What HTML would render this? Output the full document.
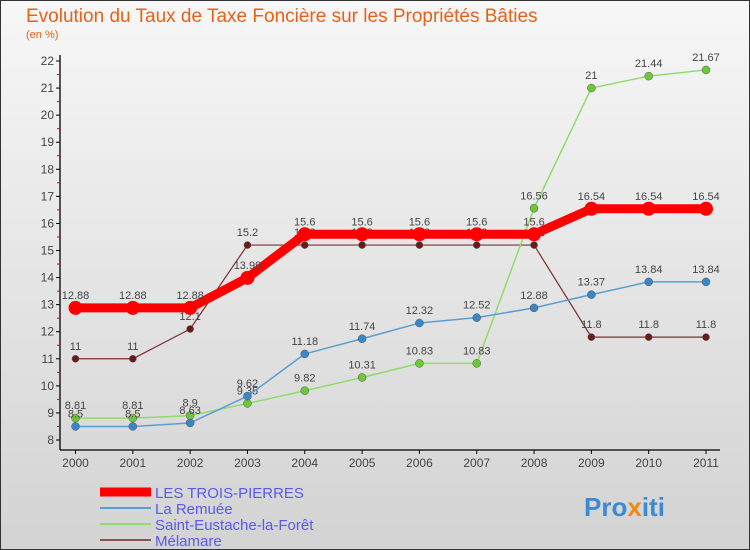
<!DOCTYPE html>
<html><head><meta charset="utf-8"><style>
body{margin:0;}
svg{display:block;font-family:"Liberation Sans",sans-serif;}
</style></head><body>
<svg id="c" width="750" height="550">
<defs><linearGradient id="bg" x1="0" y1="0" x2="0" y2="1"><stop offset="0" stop-color="#f7f7f7"/><stop offset="1" stop-color="#d3d3d3"/></linearGradient></defs>
<rect x="0.5" y="0.5" width="749" height="549" fill="url(#bg)" stroke="#333"/>
<text x="26" y="22" font-size="19" fill="#e8611a">Evolution du Taux de Taxe Foncière sur les Propriétés Bâties</text>
<text x="26" y="38" font-size="11" fill="#e8611a">(en %)</text>
<g id="axes"></g><g id="series"></g><g id="legend"></g>
<text x="584" y="516" font-size="26" font-weight="bold" fill="#3a8ad8">Pro<tspan fill="#f08a10">x</tspan>iti</text>
</svg>
<script>
const years=[2000,2001,2002,2003,2004,2005,2006,2007,2008,2009,2010,2011];
const yTicks=[8,9,10,11,12,13,14,15,16,17,18,19,20,21,22];
const seriesNames=["LES TROIS-PIERRES","La Remuée","Saint-Eustache-la-Forêt","Mélamare"];
const troisPierres=[12.88,12.88,12.88,13.99,15.6,15.6,15.6,15.6,15.6,16.54,16.54,16.54];
const remuee=[8.5,8.5,8.63,9.62,11.18,11.74,12.32,12.52,12.88,13.37,13.84,13.84];
const saintEustache=[8.81,8.81,8.9,9.35,9.82,10.31,10.83,10.83,16.56,21,21.44,21.67];
const melamare=[11,11,12.1,15.2,15.2,15.2,15.2,15.2,15.2,11.8,11.8,11.8];
const NS="http://www.w3.org/2000/svg";
function mk(t,a,p){const e=document.createElementNS(NS,t);for(const k in a)e.setAttribute(k,a[k]);p.appendChild(e);return e;}
const xS=i=>75.5+i*(706-75.5)/11;
const yS=v=>440-(v-8)*(379/14);
const ax=document.getElementById('axes');
let l=mk('line',{x1:60,y1:55,x2:60,y2:450,stroke:'#000','stroke-width':1.3},ax);

l=mk('line',{x1:60,y1:450,x2:720,y2:450,stroke:'#000','stroke-width':1.3},ax);

yTicks.forEach((v,i)=>{
 const y=yS(v);
 mk('line',{x1:56,y1:y,x2:60,y2:y,stroke:'#000'},ax);
 if(i<yTicks.length-1){mk('line',{x1:57,y1:yS(v+0.5),x2:60,y2:yS(v+0.5),stroke:'#e00'},ax);}
 const t=mk('text',{x:54,y:y+4,'font-size':12,'text-anchor':'end',fill:'#444'},ax);t.textContent=v;
 
});
years.forEach((yr,i)=>{
 const x=xS(i);
 mk('line',{x1:x,y1:450,x2:x,y2:454,stroke:'#000'},ax);
 const t=mk('text',{x:x,y:467,'font-size':12,'text-anchor':'middle',fill:'#444'},ax);t.textContent=yr;
 
});
const sg=document.getElementById('series');
const defs=[
 {d:melamare,c:'#7a3030',pc:'#6a1a1a',w:1.2,r:3.5,name:'melamare'},
 {d:saintEustache,c:'#8fdc6a',pc:'#6cc83a',w:1.5,r:4,name:'saint-eustache'},
 {d:remuee,c:'#5a9fd0',pc:'#3a86c8',w:1.5,r:4,name:'la-remuee'},
 {d:troisPierres,c:'#f00',pc:'#f00',w:9,r:7,name:'les-trois-pierres'}];
defs.forEach(s=>{
 const g=mk('g',{},sg);
 
 const p=mk('polyline',{points:s.d.map((v,i)=>xS(i)+','+yS(v)).join(' '),fill:'none',stroke:s.c,'stroke-width':s.w,'stroke-linejoin':'round'},g);
 
 s.d.forEach((v,i)=>{
  const c=mk('circle',{cx:xS(i),cy:yS(v),r:s.r,fill:s.pc,stroke:'#555','stroke-width':s.w>5?0:0.5},g);
  
  const t=mk('text',{x:xS(i),y:yS(v)-9,'font-size':11,'text-anchor':'middle',fill:'#444'},g);
  t.textContent=v;
  
 });
});
const lg=document.getElementById('legend');
const lc=['#f00','#5a9fd0','#8fdc6a','#8a5050'],lw=[9,2,2,2];
seriesNames.forEach((n,i)=>{
 const y=492+i*16;
 const g=mk('g',{},lg);
 
 mk('line',{x1:100,y1:y,x2:151,y2:y,stroke:lc[i],'stroke-width':lw[i]},g);
 const t=mk('text',{x:155,y:y+6,'font-size':15,fill:'#5a5ae8'},g);t.textContent=n;
});
</script>
</body></html>
